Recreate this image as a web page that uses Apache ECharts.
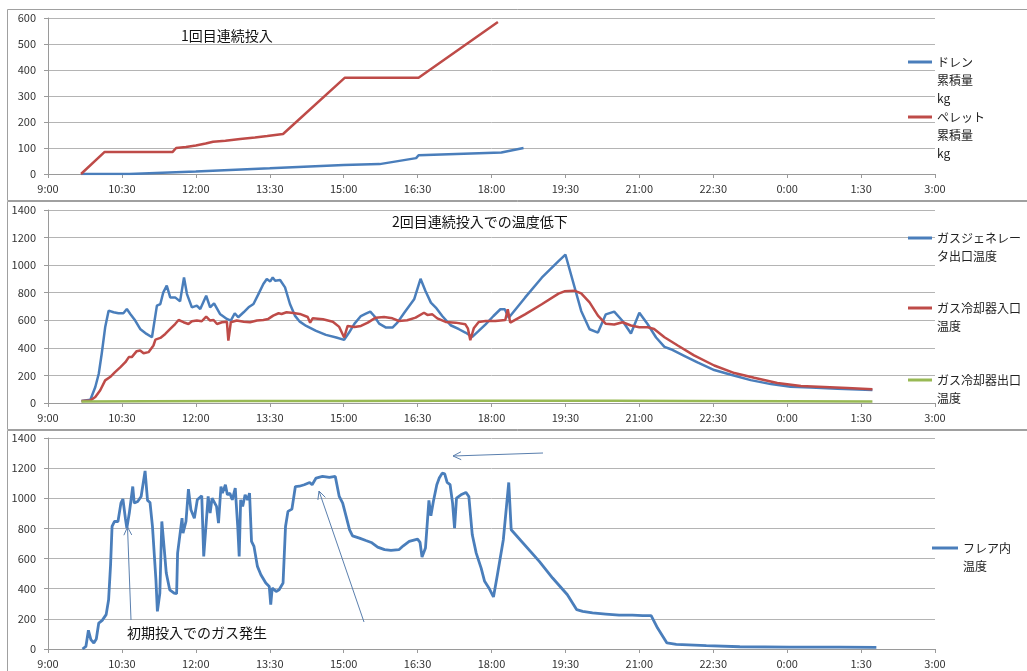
<!DOCTYPE html>
<html><head><meta charset="utf-8">
<script src="https://cdn.jsdelivr.net/npm/echarts@6/dist/echarts.min.js"></script>
<style>html,body{margin:0;padding:0;background:#fff}#c{width:1027px;height:671px}</style>
</head><body><div id="c"></div>
<script>
// ---------- Panel 1: cumulative amounts (kg) ----------
const drainTime  = [9.67, 10.65, 12.0, 13.5, 15.0, 15.73, 16.47, 16.52, 18.2, 18.65];
const drainVal   = [0, 0, 10, 22, 35, 38, 61, 72, 83, 100];
const pelletTime = [9.67, 10.15, 11.53, 11.6, 11.8, 12.0, 12.2, 12.35, 12.6, 12.9, 13.2, 13.45, 13.77, 15.02, 16.52, 18.13];
const pelletVal  = [0, 85, 85, 100, 104, 110, 117, 124, 128, 135, 140, 146, 154, 370, 370, 585];

// ---------- Panel 2: temperatures ----------
const genTime = [9.68,9.86,9.96,10.03,10.09,10.16,10.23,10.33,10.43,10.53,10.6,10.67,10.77,10.87,11.0,11.11,11.21,11.28,11.34,11.41,11.48,11.58,11.68,11.72,11.76,11.82,11.92,12.02,12.09,12.21,12.29,12.37,12.49,12.63,12.71,12.79,12.86,12.97,13.07,13.17,13.27,13.37,13.44,13.51,13.56,13.61,13.71,13.81,13.91,14.01,14.11,14.24,14.44,14.64,14.85,15.01,15.11,15.22,15.35,15.45,15.54,15.62,15.72,15.86,15.99,16.09,16.23,16.33,16.43,16.56,16.66,16.77,16.87,17.0,17.17,17.34,17.47,17.61,17.74,17.88,18.04,18.18,18.27,18.35,18.68,19.02,19.36,19.5,19.82,19.99,20.16,20.32,20.49,20.66,20.83,21.0,21.17,21.34,21.51,21.64,21.91,22.18,22.52,22.86,23.26,23.67,24.07,24.48,25.02,25.73];
const genVal  = [14,24,116,212,357,549,670,658,651,651,682,646,598,537,501,477,706,718,803,851,766,766,737,747,911,790,694,706,682,778,694,723,646,610,598,651,622,658,694,718,790,863,899,882,911,887,892,839,718,634,590,559,523,494,475,458,511,576,631,648,663,631,576,547,547,583,655,704,752,901,812,728,692,631,564,535,511,480,523,571,631,680,680,619,764,909,1029,1077,668,535,511,643,663,595,504,655,571,475,407,390,342,294,239,205,166,137,118,113,104,94];

const coolInTime = [9.68,9.86,9.96,10.06,10.16,10.26,10.36,10.47,10.57,10.64,10.7,10.8,10.87,10.94,11.04,11.14,11.18,11.28,11.38,11.48,11.58,11.65,11.75,11.85,11.92,12.02,12.12,12.21,12.29,12.36,12.43,12.53,12.63,12.66,12.71,12.83,12.97,13.1,13.24,13.37,13.47,13.57,13.68,13.74,13.84,13.98,14.11,14.27,14.32,14.37,14.58,14.78,14.91,15.01,15.08,15.22,15.35,15.49,15.65,15.82,15.99,16.12,16.29,16.46,16.63,16.7,16.8,16.9,17.07,17.27,17.47,17.52,17.57,17.64,17.74,17.88,18.08,18.28,18.33,18.38,18.68,19.02,19.36,19.48,19.68,19.82,19.99,20.16,20.32,20.49,20.66,20.83,21.0,21.17,21.3,21.51,21.78,22.11,22.52,22.93,23.33,23.8,24.28,24.75,25.22,25.73];
const coolInVal  = [14,19,43,92,164,188,224,260,296,333,333,376,381,361,369,417,460,472,501,537,573,602,586,573,593,598,593,627,598,602,573,586,590,453,586,598,590,586,598,602,610,634,651,646,658,653,646,624,583,614,607,590,552,475,559,552,559,583,619,624,614,595,600,619,655,639,643,614,588,583,571,542,455,542,588,595,595,602,680,583,643,716,793,810,815,795,730,634,574,569,586,562,550,550,537,477,417,345,272,217,183,145,123,116,108,99];

const coolOutTime = [9.68, 11.0, 13.0, 15.0, 17.0, 19.0, 20.5, 22.0, 24.0, 25.73];
const coolOutVal  = [10, 12, 14, 15, 16, 17, 16, 14, 12, 10];

// ---------- Panel 3: flare temperature ----------
const flareTime = [9.70,9.77,9.82,9.87,9.93,9.98,10.03,10.1,10.18,10.23,10.27,10.3,10.35,10.42,10.48,10.52,10.57,10.6,10.65,10.72,10.75,10.82,10.89,10.97,11.02,11.07,11.12,11.19,11.22,11.27,11.31,11.36,11.4,11.47,11.56,11.61,11.63,11.66,11.72,11.74,11.8,11.85,11.9,11.97,12.03,12.12,12.16,12.2,12.25,12.29,12.33,12.37,12.42,12.46,12.51,12.54,12.6,12.64,12.69,12.74,12.8,12.85,12.88,12.91,12.95,13.0,13.05,13.09,13.13,13.18,13.25,13.32,13.42,13.49,13.52,13.55,13.63,13.69,13.77,13.82,13.87,13.95,14.02,14.1,14.2,14.31,14.36,14.44,14.57,14.71,14.83,14.91,14.98,15.05,15.12,15.18,15.32,15.45,15.56,15.69,15.83,15.96,16.12,16.21,16.33,16.5,16.55,16.59,16.66,16.73,16.77,16.82,16.89,16.94,17.0,17.05,17.1,17.16,17.21,17.25,17.29,17.38,17.48,17.54,17.61,17.69,17.79,17.86,17.96,18.04,18.12,18.24,18.35,18.4,18.97,19.24,19.54,19.73,19.85,20.05,20.32,20.59,20.86,21.07,21.24,21.37,21.56,21.75,22.36,23.04,24.05,25.06,25.81];
const flareVal  = [0,18,124,62,40,66,172,190,228,327,560,813,846,846,968,995,868,802,902,1078,968,979,1012,1182,986,972,813,460,250,371,846,659,504,393,371,367,636,636,868,769,846,1061,924,868,990,1017,614,625,1012,902,1001,990,946,835,1078,1034,1090,1023,1034,990,1067,813,614,990,946,1023,990,1034,714,681,548,493,438,415,294,404,382,393,438,813,913,928,1078,1080,1090,1105,1090,1134,1145,1138,1145,1012,968,880,791,751,736,720,707,676,659,654,659,685,714,729,707,610,670,986,884,979,1090,1134,1167,1162,1105,1090,968,802,1001,1023,1039,1012,758,636,537,449,398,345,493,725,1105,791,581,471,360,261,250,239,232,225,225,221,221,139,40,31,22,15,13,13,11];

// ---------- Labels ----------
const nameDrain   = 'ドレン\n累積量\nkg';
const namePellet  = 'ペレット\n累積量\nkg';
const nameGen     = 'ガスジェネレー\nタ出口温度';
const nameCoolIn  = 'ガス冷却器入口\n温度';
const nameCoolOut = 'ガス冷却器出口\n温度';
const nameFlare   = 'フレア内\n温度';
const title1 = '1回目連続投入';
const title2 = '2回目連続投入での温度低下';
const note3  = '初期投入でのガス発生';

const FONT = '"Noto Sans CJK JP", "Noto Sans", sans-serif';
const BLUE = '#4a7ebb', RED = '#be4b48', GREEN = '#98b954';

const zip = (t, v) => t.map((x, i) => [x, v[i]]);
function fmt(v){ const h = Math.floor(v + 1e-6); const m = Math.round((v - h) * 60); return (h % 24) + ':' + (m < 10 ? '0' : '') + m; }

const grids = [
  {left: 48, width: 887, top: 18, height: 156},
  {left: 48, width: 887, top: 210, height: 193},
  {left: 48, width: 887, top: 438, height: 211}
];
const xAxes = grids.map((g, i) => ({
  type: 'value', gridIndex: i, min: 9, max: 27, interval: 1.5,
  axisLine: {show: true, lineStyle: {color: '#9a9a9a'}},
  axisTick: {show: true, length: 4, lineStyle: {color: '#9a9a9a'}},
  splitLine: {show: false},
  axisLabel: {formatter: fmt, fontSize: 11, color: '#333', margin: 9, fontFamily: FONT, showMinLabel: true, showMaxLabel: true}
}));
const yMax = [600, 1400, 1400], yInt = [100, 200, 200];
const yAxes = grids.map((g, i) => ({
  type: 'value', gridIndex: i, min: 0, max: yMax[i], interval: yInt[i],
  axisLine: {show: true, lineStyle: {color: '#9a9a9a'}},
  axisTick: {show: true, length: 4, lineStyle: {color: '#9a9a9a'}},
  splitLine: {show: true, lineStyle: {color: '#b4b4b4', width: 1}},
  axisLabel: {fontSize: 11, color: '#333', margin: 12, fontFamily: FONT, formatter: v => String(v)}
}));

function line(name, idx, t, v, color, w) {
  return {name, type: 'line', xAxisIndex: idx, yAxisIndex: idx, data: zip(t, v),
    symbol: 'none', lineStyle: {color, width: w}, itemStyle: {color}, animation: false};
}

// legend: leading blank lines push the first text line level with the icon
function mkLegend(name, left, top, lines, iw) {
  return {data: [name], left, top, orient: 'vertical', padding: 0, itemWidth: iw, itemHeight: 3,
    icon: 'rect', selectedMode: false,
    formatter: n => '\n'.repeat(lines - 1) + n,
    textStyle: {fontSize: 12, color: '#222', lineHeight: 18, fontFamily: FONT}};
}

function arrow(x1, y1, x2, y2) {
  const dx = x2 - x1, dy = y2 - y1, L = Math.hypot(dx, dy), ux = dx / L, uy = dy / L;
  const a = 26 * Math.PI / 180, len = 9;
  const w = s => [x2 - len * (ux * Math.cos(a) - s * uy * Math.sin(a)), y2 - len * (uy * Math.cos(a) + s * ux * Math.sin(a))];
  const st = {stroke: '#5a7fae', lineWidth: 1, fill: null};
  return [
    {type: 'line', shape: {x1, y1, x2, y2}, style: st, z: 50},
    {type: 'polyline', shape: {points: [w(1), [x2, y2], w(-1)]}, style: st, z: 50}
  ];
}

const frameStyle = {stroke: '#a0a0a0', lineWidth: 1, fill: null};
const graphics = [
  {type: 'rect', shape: {x: 7.5, y: 9.5, width: 1030, height: 191}, style: frameStyle, z: 0},
  {type: 'rect', shape: {x: 7.5, y: 201.5, width: 1030, height: 228}, style: frameStyle, z: 0},
  {type: 'rect', shape: {x: 7.5, y: 430.5, width: 1030, height: 250}, style: frameStyle, z: 0},
  ...arrow(131, 620, 127.5, 527),
  ...arrow(364, 622, 319, 491),
  ...arrow(543, 453, 453, 456)
];

const option = {
  backgroundColor: '#fff',
  animation: false,
  textStyle: {fontFamily: FONT},
  title: [
    {text: title1, left: 181, top: 29, padding: 0, textStyle: {fontSize: 14, fontWeight: 'normal', color: '#111', fontFamily: FONT}},
    {text: title2, left: 392, top: 215, padding: 0, textStyle: {fontSize: 14, fontWeight: 'normal', color: '#111', fontFamily: FONT}},
    {text: note3, left: 127, top: 626, padding: 0, textStyle: {fontSize: 14, fontWeight: 'normal', color: '#111', fontFamily: FONT}}
  ],
  grid: grids,
  xAxis: xAxes,
  yAxis: yAxes,
  legend: [
    mkLegend(nameDrain, 908, 17, 3, 24),
    mkLegend(namePellet, 908, 72, 3, 24),
    mkLegend(nameGen, 908, 211, 2, 24),
    mkLegend(nameCoolIn, 908, 281, 2, 24),
    mkLegend(nameCoolOut, 908, 353, 2, 24),
    mkLegend(nameFlare, 932, 521, 2, 26)
  ],
  series: [
    line(nameDrain, 0, drainTime, drainVal, BLUE, 2.5),
    line(namePellet, 0, pelletTime, pelletVal, RED, 2.5),
    line(nameGen, 1, genTime, genVal, BLUE, 2.5),
    line(nameCoolIn, 1, coolInTime, coolInVal, RED, 2.5),
    line(nameCoolOut, 1, coolOutTime, coolOutVal, GREEN, 2.5),
    line(nameFlare, 2, flareTime, flareVal, BLUE, 2.8)
  ],
  graphic: graphics
};
const chart = echarts.init(document.getElementById('c'), null, {renderer: 'canvas'});
chart.setOption(option);
</script></body></html>
